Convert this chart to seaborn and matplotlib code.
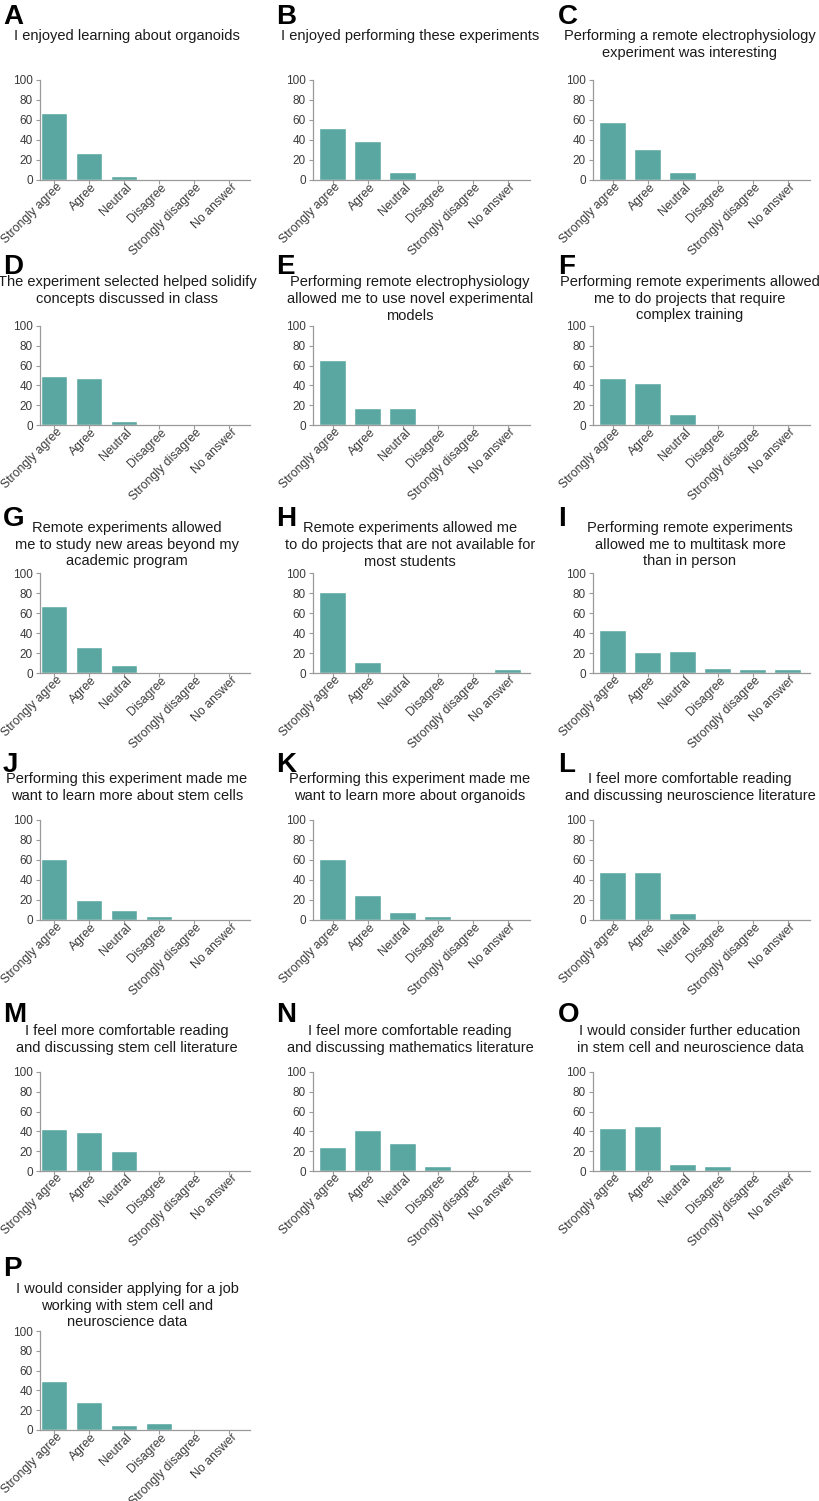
import matplotlib
matplotlib.use("Agg")
import matplotlib.pyplot as plt
import matplotlib.transforms as mtransforms
import seaborn as sns

# answer categories (x axis of every panel)
categories = ["Strongly agree", "Agree", "Neutral", "Disagree",
              "Strongly disagree", "No answer"]

# panel letters and survey statements
letters = list("ABCDEFGHIJKLMNOP")
titles = [
    "I enjoyed learning about organoids",
    "I enjoyed performing these experiments",
    "Performing a remote electrophysiology\nexperiment was interesting",
    "The experiment selected helped solidify\nconcepts discussed in class",
    "Performing remote electrophysiology\nallowed me to use novel experimental\nmodels",
    "Performing remote experiments allowed\nme to do projects that require\ncomplex training",
    "Remote experiments allowed\nme to study new areas beyond my\nacademic program",
    "Remote experiments allowed me\nto do projects that are not available for\nmost students",
    "Performing remote experiments\nallowed me to multitask more\nthan in person",
    "Performing this experiment made me\nwant to learn more about stem cells",
    "Performing this experiment made me\nwant to learn more about organoids",
    "I feel more comfortable reading\nand discussing neuroscience literature",
    "I feel more comfortable reading\nand discussing stem cell literature",
    "I feel more comfortable reading\nand discussing mathematics literature",
    "I would consider further education\nin stem cell and neuroscience data",
    "I would consider applying for a job\nworking with stem cell and\nneuroscience data",
]

# percent of responses, one list per panel
pct_A = [67, 27, 4, 0, 0, 0]
pct_B = [52, 39, 8, 0, 0, 0]
pct_C = [58, 31, 8, 0, 0, 0]
pct_D = [50, 47, 4, 0, 0, 0]
pct_E = [66, 17, 17, 0, 0, 0]
pct_F = [47, 42, 11, 0, 0, 0]
pct_G = [67, 26, 8, 0, 0, 0]
pct_H = [81, 11, 0, 0, 0, 4]
pct_I = [43, 21, 22, 5, 4, 4]
pct_J = [61, 20, 10, 4, 0, 0]
pct_K = [61, 25, 8, 4, 0, 0]
pct_L = [48, 48, 7, 0, 0, 0]
pct_M = [42, 39, 20, 0, 0, 0]
pct_N = [24, 41, 28, 5, 0, 0]
pct_O = [43, 45, 7, 5, 0, 0]
pct_P = [50, 28, 5, 7, 0, 0]
panels = [pct_A, pct_B, pct_C, pct_D, pct_E, pct_F, pct_G, pct_H,
          pct_I, pct_J, pct_K, pct_L, pct_M, pct_N, pct_O, pct_P]

# layout in pixels
W, H = 820, 1501
col_left = [40, 313, 593]
col_right = [250, 530, 810]
col_xlim = [(-0.4, 5.6), (-0.56, 5.64), (-0.56, 5.64)]
row_top = [80, 326, 573, 820, 1072, 1331]
row_bottom = [180, 425, 673, 920, 1171, 1430]
letter_x = [3, 276, 558]
letter_y = [4, 254, 506, 752, 1002, 1256]
title_x = [127, 410, 690]
title_y = [29, 275, 521, 772, 1024, 1282]

TEAL = "#5aa7a1"
GREY = "#9a9a9a"

sns.set_style("ticks")
plt.rcParams["font.family"] = ["Liberation Sans", "DejaVu Sans"]

fig = plt.figure(figsize=(W / 100, H / 100), dpi=100)
# rotated labels sit a little right of their tick, as in the original
shift = mtransforms.ScaledTranslation(6 / 100, 0, fig.dpi_scale_trans)

for i, vals in enumerate(panels):
    r, c = divmod(i, 3)
    ax = fig.add_axes([col_left[c] / W, 1 - row_bottom[r] / H,
                       (col_right[c] - col_left[c]) / W,
                       (row_bottom[r] - row_top[r]) / H])
    sns.barplot(x=categories, y=vals, order=categories, color=TEAL,
                saturation=1, width=0.77, ax=ax)
    ax.set_xlim(*col_xlim[c])
    ax.set_ylim(0, 100)
    ax.set_yticks(range(0, 101, 20))
    ax.set_xlabel("")
    ax.set_ylabel("")
    sns.despine(ax=ax)
    for s in ["left", "bottom"]:
        ax.spines[s].set_color(GREY)
        ax.spines[s].set_linewidth(0.9)
    ax.tick_params(length=3, width=0.8, color=GREY, labelsize=8.5,
                   labelcolor="#3a3a3a", pad=2)
    ax.tick_params(axis="x", labelsize=8.8, pad=1)
    for lab in ax.get_xticklabels():
        lab.set_rotation(45)
        lab.set_ha("right")
        lab.set_va("center")
        lab.set_rotation_mode("anchor")
        lab.set_transform(lab.get_transform() + shift)

    fig.text(letter_x[c] / W, 1 - letter_y[r] / H, letters[i],
             fontsize=20, fontweight="bold", ha="left", va="top",
             color="black")
    fig.text(title_x[c] / W, 1 - title_y[r] / H, titles[i],
             fontsize=10.5, ha="center", va="top", linespacing=1.25,
             color="#1a1a1a")

fig.savefig("out.png", dpi=100)
